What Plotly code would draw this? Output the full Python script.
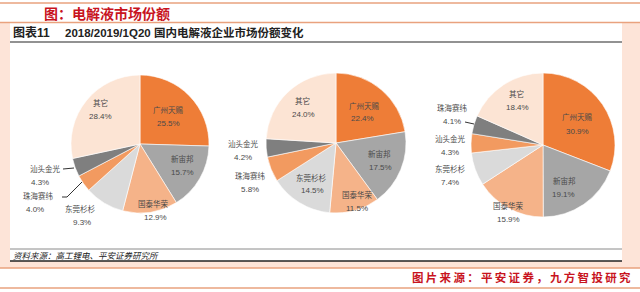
import plotly.graph_objects as go

W, H = 640, 292

# ---------------- data ----------------
names_2018 = ["广州天赐", "新宙邦", "国泰华荣", "东莞杉杉", "珠海赛纬", "汕头金光", "其它"]
share_2018 = [25.5, 15.7, 12.9, 9.3, 4.0, 4.3, 28.4]
names_2019 = ["广州天赐", "新宙邦", "国泰华荣", "东莞杉杉", "珠海赛纬", "汕头金光", "其它"]
share_2019 = [22.4, 17.5, 11.5, 14.5, 5.8, 4.2, 24.0]
names_1q20 = ["广州天赐", "新宙邦", "国泰华荣", "东莞杉杉", "汕头金光", "珠海赛纬", "其它"]
share_1q20 = [30.9, 19.1, 15.9, 7.4, 4.3, 4.1, 18.4]

title_top = "图：电解液市场份额"
header_no = "图表11"
header_txt = "2018/2019/1Q20 国内电解液企业市场份额变化"
source_txt = "资料来源：高工锂电、平安证券研究所"
footer_txt = "图片来源：平安证券，九方智投研究"

# ---------------- style / layout ----------------
slice_colors = ["#EE7D37", "#A6A6A6", "#F5B389", "#DADADA", "#F29A60", "#7F7F7F", "#FCE4D4"]
peach = "#FDE4D8"
salmon = "#E9A27E"
label_color = "#4A4A4A"

# pie centres and radii (px)
pies = [
    (names_2018, share_2018, 140, 144, 69),
    (names_2019, share_2019, 336, 143, 70),
    (names_1q20, share_1q20, 543, 145, 72),
]

# label positions (px) for name line; percent line is drawn 14px lower
label_pos = [
    [(168, 110), (182, 158), (153, 203), (80, 208), (38, 195), (45, 168), (100, 103)],
    [(364, 105), (379, 153), (357, 194), (311, 177), (250, 175), (243, 143), (302, 100)],
    [(577, 117), (564, 180), (508, 205), (450, 168), (450, 138), (452, 107), (516, 94)],
]
pct_dx = [
    [0, 0, 2, 2, -3, -5, 0],
    [-2, 1, 0, 1, 0, 0, 1],
    [0, -1, 0, 0, 0, 0, 1],
]


def px(x):
    return x / W


def py(y):
    return 1 - y / H


fig = go.Figure()

for names, vals, cx, cy, r in pies:
    fig.add_trace(go.Pie(
        labels=names, values=vals, sort=False, direction="clockwise", rotation=0,
        marker=dict(colors=slice_colors, line=dict(color="white", width=0.6)),
        textinfo="none", hoverinfo="label+value", showlegend=False,
        domain=dict(x=[px(cx - r), px(cx + r)], y=[py(cy + r), py(cy - r)]),
    ))

shapes = []
# background panels
shapes.append(dict(type="rect", xref="paper", yref="paper", x0=0, x1=1,
                   y0=py(268), y1=py(23), fillcolor=peach, line_width=0, layer="below"))
shapes.append(dict(type="rect", xref="paper", yref="paper", x0=px(10), x1=px(622),
                   y0=py(261), y1=py(23), fillcolor="white", line_width=0, layer="below"))
# salmon horizontal rules
for yy in (3, 22.5, 268, 288):
    shapes.append(dict(type="line", xref="paper", yref="paper", x0=0, x1=1,
                       y0=py(yy), y1=py(yy), line=dict(color=salmon, width=1.5)))
# header rule and source rules
shapes.append(dict(type="line", xref="paper", yref="paper", x0=px(10), x1=px(622),
                   y0=py(42), y1=py(42), line=dict(color="#6E6E6E", width=1.6)))
shapes.append(dict(type="line", xref="paper", yref="paper", x0=px(10), x1=px(622),
                   y0=py(249), y1=py(249), line=dict(color="#8A8A8A", width=1)))
shapes.append(dict(type="line", xref="paper", yref="paper", x0=px(10), x1=px(622),
                   y0=py(261), y1=py(261), line=dict(color="#222222", width=1.5)))
# leader lines
leaders = [
    [(63, 169), (74, 168)],
    [(62, 197), (67, 197), (82, 182)],
    [(465, 122), (474, 124)],
]
for pts in leaders:
    for (x0, y0), (x1, y1) in zip(pts[:-1], pts[1:]):
        shapes.append(dict(type="line", xref="paper", yref="paper",
                           x0=px(x0), x1=px(x1), y0=py(y0), y1=py(y1),
                           line=dict(color="#333333", width=1)))

ann = []
cjk = "Noto Sans CJK SC"
ann.append(dict(text=f"<b>{title_top}</b>", x=px(42), y=py(13), xanchor="left", yanchor="middle",
                font=dict(family=cjk, size=14, color="#C8141E")))
ann.append(dict(text=f"<b>{header_no}</b>", x=px(11), y=py(32), xanchor="left", yanchor="middle",
                font=dict(family="Liberation Sans, " + cjk, size=12, color="#222222")))
ann.append(dict(text=f"<b>{header_txt}</b>", x=px(63), y=py(32), xanchor="left", yanchor="middle",
                font=dict(family="Liberation Sans, " + cjk, size=11.5, color="#222222")))
ann.append(dict(text=source_txt, x=px(11), y=py(255), xanchor="left", yanchor="middle",
                font=dict(family=cjk, size=8.5, color="#222222", style="italic")))
ann.append(dict(text="<b>" + "\u2009".join(footer_txt) + "</b>", x=px(633), y=py(277),
                xanchor="right", yanchor="middle",
                font=dict(family=cjk, size=11.5, color="#C8141E")))

for (names, vals, cx, cy, r), poss, dxs in zip(pies, label_pos, pct_dx):
    for n, v, (lx, ly), dx in zip(names, vals, poss, dxs):
        ann.append(dict(text=n, x=px(lx), y=py(ly), xanchor="center", yanchor="middle",
                        font=dict(family=cjk, size=7.5, color=label_color)))
        ann.append(dict(text=f"{v:.1f}%", x=px(lx + dx), y=py(ly + 14), xanchor="center", yanchor="middle",
                        font=dict(family="Liberation Sans", size=8, color=label_color)))

for a in ann:
    a.update(xref="paper", yref="paper", showarrow=False)

fig.update_layout(width=W, height=H, margin=dict(l=0, r=0, t=0, b=0),
                  paper_bgcolor="white", plot_bgcolor="white",
                  shapes=shapes, annotations=ann)

fig.write_html("out.html")
